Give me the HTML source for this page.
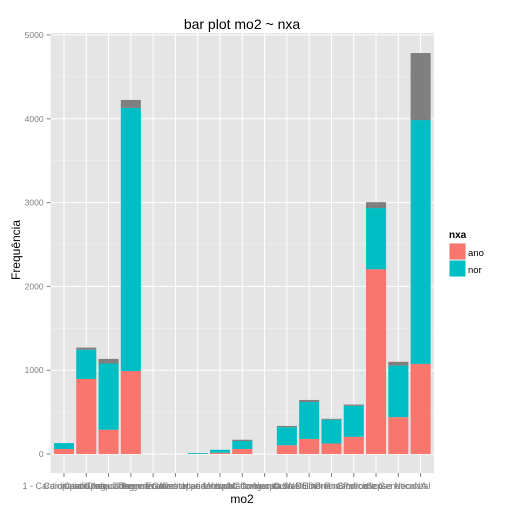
<!DOCTYPE html>
<html><head><meta charset="utf-8"><style>
body{margin:0;background:#fff}
svg text{font-family:"Liberation Sans",sans-serif}
</style></head><body>
<svg id="c" width="512" height="512" xmlns="http://www.w3.org/2000/svg">
<rect width="512" height="512" fill="#fff"/>
<g id="plot"></g>
<text x="242" y="29" font-size="14" text-anchor="middle" fill="#000">bar plot mo2 ~ nxa</text>
<text x="242" y="503" font-size="12" text-anchor="middle" fill="#000">mo2</text>
<text x="20" y="250" font-size="12" text-anchor="middle" fill="#000" transform="rotate(-90 20 250)">Frequência</text>
<g>
<text x="449" y="238" font-size="10" font-weight="bold">nxa</text>
<g><rect x="449" y="243" width="17" height="17" fill="#f2f2f2"/><rect x="449.5" y="243.5" width="16" height="16" fill="#F8766D"/><text x="468" y="256" font-size="9.5" fill="#000">ano</text></g>
<g><rect x="449.5" y="260.5" width="16" height="16" fill="#00BFC4"/><text x="468" y="273" font-size="9.5" fill="#000">nor</text></g>
</g>
</svg>
<script>
const categories=["1 - Cardiopatia Cong","Cardiopatia Adquirida","Cardiopatia Congenita","Doenca Degenerativa","Doenca Genetica","Endocrinopatia","Gestacao Multipla","Hipertensao Grave","Infeccao Congenita","Malformacao SNC","Neoplasia HEDP","Outras Sindromes","Pulmonar Cronica","Rim Policistico","Sindrome Genetica","Sepse Neonatal","NA"];
const anoValues=[60,895,290,990,0,0,2,15,60,0,105,180,125,205,2205,440,1075];
const norValues=[70,350,790,3140,0,0,10,35,95,0,215,440,285,370,730,615,2910];
const naValues=[0,25,55,95,0,0,0,0,15,0,15,25,10,15,70,45,800];
const yTicks=[0,1000,2000,3000,4000,5000];

const NS="http://www.w3.org/2000/svg";
const g=document.getElementById('plot');
const L=50.6,R=434,T=33,B=473;
const y0=454,y5=35;
function y(v){return y0-(v/5000)*(y0-y5);}
const step=(R-L)/(categories.length+0.2);
function xc(i){return L+0.6*step+i*step;}
function el(tag,a){const e=document.createElementNS(NS,tag);for(const k in a)e.setAttribute(k,a[k]);g.appendChild(e);return e;}
let bg=el('rect',{x:L,y:T,width:R-L,height:B-T,fill:'#E5E5E5'});


for(let i=0;i<yTicks.length-1;i++){const m=(yTicks[i]+yTicks[i+1])/2;el('line',{x1:L,x2:R,y1:y(m),y2:y(m),stroke:'#F2F2F2','stroke-width':0.5});}
yTicks.forEach(t=>{el('line',{x1:L,x2:R,y1:y(t),y2:y(t),stroke:'#fff','stroke-width':1});
 el('line',{x1:L-4,x2:L,y1:y(t),y2:y(t),stroke:'#7f7f7f'});
 const tx=el('text',{x:L-7,y:y(t)+3,'font-size':8.5,'text-anchor':'end',fill:'#7f7f7f'});tx.textContent=t;
 
 });
categories.forEach((c,i)=>{const x=xc(i);
 el('line',{x1:x,x2:x,y1:T,y2:B,stroke:'#fff','stroke-width':1});
 el('line',{x1:x,x2:x,y1:B,y2:B+4,stroke:'#7f7f7f'});
 const tx=el('text',{x:x,y:B+16,'font-size':9,'text-anchor':'middle',fill:'#7f7f7f'});tx.textContent=c;
 
 });
const w=step*0.9;
categories.forEach((c,i)=>{let base=0;
 [[anoValues,'#F8766D','ano'],[norValues,'#00BFC4','nor'],[naValues,'#7F7F7F','na']].forEach(([arr,col,nm])=>{
  const v=arr[i];if(v<=0)return;
  const r=el('rect',{x:xc(i)-w/2,y:y(base+v),width:w,height:y(base)-y(base+v),fill:col});
  
  
  base+=v;});});
</script>
</body></html>
